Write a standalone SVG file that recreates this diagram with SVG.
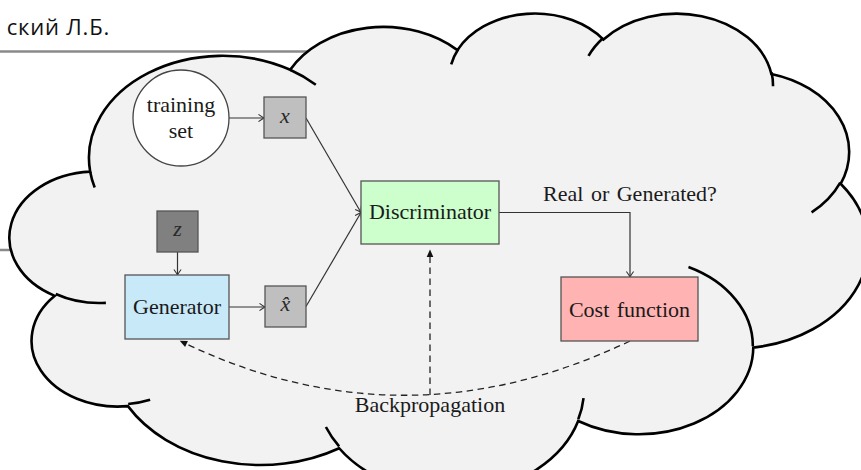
<svg xmlns="http://www.w3.org/2000/svg" width="861" height="470" viewBox="0 0 861 470">
  <style>
    .rule { stroke: #8a8a8a; stroke-width: 2.5; fill: none; }
    .head { font-family: "Open Sans", "Noto Sans", sans-serif; font-size: 22px; letter-spacing: 0.8px; fill: #111; }
    .cloud { fill: #f2f2f2; stroke: #000; stroke-width: 2.6; stroke-linejoin: miter; }
    .cloud-tail { fill: none; stroke: #000; stroke-width: 2.6; }
    .box { stroke: #555; stroke-width: 1.3; }
    .lbl { font-family: "Liberation Serif", "Times New Roman", serif; font-size: 22px; fill: #1a1a1a; text-anchor: middle; }
    .math { font-family: "Liberation Serif", "Times New Roman", serif; font-style: italic; font-size: 22px; fill: #2a2a2a; text-anchor: middle; }
    .wire { fill: none; stroke: #333; stroke-width: 1.2; }
    .dash { fill: none; stroke: #222; stroke-width: 1.3; stroke-dasharray: 6.5 4.5; }
  </style>
  <defs>
    <!-- open "->" style arrow tip -->
    <marker id="tip" markerUnits="userSpaceOnUse" viewBox="-8 -6 10 12" markerWidth="10" markerHeight="12" refX="0" refY="0" orient="auto" overflow="visible">
      <path d="M-5.5,-3.6 Q-2,-1 0,0 Q-2,1 -5.5,3.6" fill="none" stroke="#333" stroke-width="1.1"/>
    </marker>
    <!-- filled triangular tip, drawn ahead of the path end -->
    <marker id="solid" markerUnits="userSpaceOnUse" viewBox="-1 -5 10 10" markerWidth="10" markerHeight="10" refX="0" refY="0" orient="auto" overflow="visible">
      <path d="M7.5,0 L0,-3.3 L0,3.3 Z" fill="#111"/>
    </marker>
  </defs>

  <rect x="0" y="0" width="861" height="470" fill="#ffffff"/>

  <!-- slide rules and header -->
  <line class="rule" x1="0" y1="51.5" x2="320" y2="51.5"/>
  <line class="rule" x1="0" y1="250" x2="60" y2="250"/>
  <text class="head" x="110" y="35" text-anchor="end">ский Л.Б.</text>

  <!-- cloud outline (43200-unit shape space) -->
  <g id="cloud" transform="translate(13,12) scale(0.0197917,0.0111111)">
    <path class="cloud" vector-effect="non-scaling-stroke" d="M3900,14370
      A6753,9190 0 0 1 14005,5202
      A5333,7267 0 0 1 22456,3432
      A4365,5945 0 0 1 29833,2481
      A4857,6595 0 0 1 38318,5576
      A5333,7273 0 0 1 41818,15459
      A6775,9220 0 0 1 37404,30203
      A5785,7867 0 0 1 28556,36813
      A6752,9215 0 0 1 16481,39264
      A7720,10543 0 0 1 5805,35470
      A4360,5918 0 0 1 2114,25548
      A4345,5945 0 0 1 3900,14370 Z"/>
    <path class="cloud-tail" vector-effect="non-scaling-stroke" d="
      M4693,26177 A4345,5945 0 0 1 2160,25380
      M6928,34899 A4360,5918 0 0 1 5820,35281
      M16478,39090 A6752,9215 0 0 1 15810,37350
      M28827,34751 A6752,9215 0 0 1 28560,36660
      M34129,22954 A5785,7867 0 0 1 37380,30090
      M41798,15354 A5333,7273 0 0 1 40350,18030
      M38324,5426 A4857,6595 0 0 1 38400,6690
      M29078,3952 A4857,6595 0 0 1 29820,2340
      M22141,4720 A4365,5945 0 0 1 22500,3330
      M14000,5192 A6753,9190 0 0 1 15300,6541
      M4127,15789 A6753,9190 0 0 1 3900,14370"/>
  </g>

  <!-- connectors -->
  <g id="connectors">
    <path class="wire" d="M229,118 H264" marker-end="url(#tip)"/>
    <path class="wire" d="M177.5,252 V275" marker-end="url(#tip)"/>
    <path class="wire" d="M229,307 H265" marker-end="url(#tip)"/>
    <path class="wire" d="M306,118 L361,212.5" marker-end="url(#tip)"/>
    <path class="wire" d="M306,306.5 L361,212.5" marker-end="url(#tip)"/>
    <path class="wire" d="M499,212.5 H630 V277" marker-end="url(#tip)"/>
    <path class="dash" d="M630,341 Q406,448 186.5,344" marker-end="url(#solid)"/>
    <path class="dash" d="M430,395 V257" marker-end="url(#solid)"/>
    <text class="lbl" x="630" y="201" word-spacing="2">Real or Generated?</text>
    <text class="lbl" x="430" y="412">Backpropagation</text>
  </g>

  <!-- nodes -->
  <g id="training-set">
    <circle cx="181" cy="118" r="48" fill="#ffffff" stroke="#444" stroke-width="1.3"/>
    <text class="lbl" x="181" y="112">training</text>
    <text class="lbl" x="181" y="138">set</text>
  </g>
  <g id="x">
    <rect class="box" x="264" y="97" width="42" height="41" fill="#bfbfbf"/>
    <text class="math" x="285" y="123">x</text>
  </g>
  <g id="z">
    <rect class="box" x="157" y="211" width="41" height="41" fill="#808080" stroke="#333"/>
    <text class="math" x="177.5" y="236">z</text>
  </g>
  <g id="generator">
    <rect class="box" x="125" y="275" width="104" height="64" fill="#c8e9f8"/>
    <text class="lbl" x="177" y="314">Generator</text>
  </g>
  <g id="x-hat">
    <rect class="box" x="265" y="286" width="41" height="41" fill="#bfbfbf"/>
    <text class="math" x="285.5" y="311">x̂</text>
  </g>
  <g id="discriminator">
    <rect class="box" x="361" y="181" width="138" height="63" fill="#ccffcc"/>
    <text class="lbl" x="430" y="219">Discriminator</text>
  </g>
  <g id="cost-function">
    <rect class="box" x="561" y="277" width="137" height="64" fill="#ffb3b3"/>
    <text class="lbl" x="629.5" y="316.5" word-spacing="2">Cost function</text>
  </g>
</svg>
